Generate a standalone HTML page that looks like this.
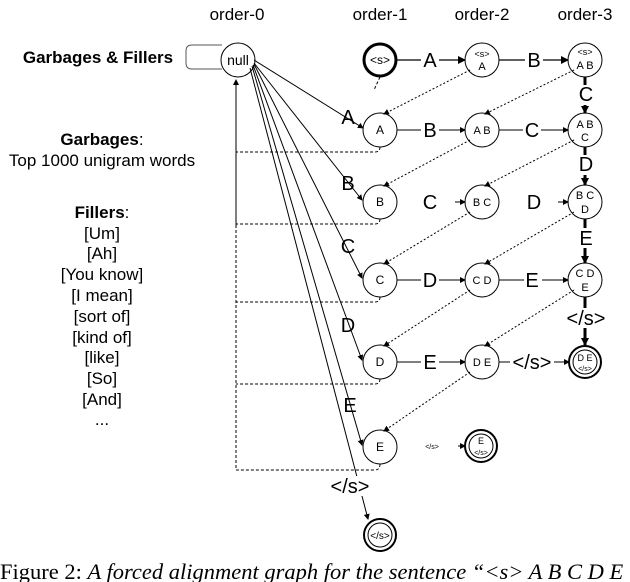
<!DOCTYPE html><html><head><meta charset="utf-8"><style>body{margin:0;background:#fff}svg{display:block}text{font-family:"Liberation Sans",sans-serif}</style></head><body>
<svg width="630" height="582" viewBox="0 0 630 582" xmlns="http://www.w3.org/2000/svg">
<defs><marker id="a" markerWidth="8" markerHeight="8" refX="7" refY="4" orient="auto" markerUnits="userSpaceOnUse"><path d="M0,0L8,4L0,8z" fill="#000"/></marker>
<marker id="s" markerWidth="6" markerHeight="6" refX="5" refY="3" orient="auto" markerUnits="userSpaceOnUse"><path d="M0,0L6,3L0,6z" fill="#000"/></marker></defs>
<g font-size="17" text-anchor="middle"><text x="237" y="20">order-0</text><text x="380" y="20">order-1</text><text x="482" y="20">order-2</text><text x="585" y="20">order-3</text></g>
<g text-anchor="middle" font-size="17"><text x="98" y="63" font-weight="bold">Garbages &amp; Fillers</text>
<text x="102" y="145"><tspan font-weight="bold">Garbages</tspan>:</text><text x="102" y="166">Top 1000 unigram words</text>
<text x="102" y="218"><tspan font-weight="bold">Fillers</tspan>:</text>
<text x="102" y="239">[Um]</text><text x="102" y="259">[Ah]</text><text x="102" y="280">[You know]</text><text x="102" y="301">[I mean]</text><text x="102" y="322">[sort of]</text><text x="102" y="343">[kind of]</text><text x="102" y="363">[like]</text><text x="102" y="384">[So]</text><text x="102" y="405">[And]</text><text x="102" y="425">...</text></g>
<g fill="none" stroke="#000" stroke-width="1">
<path d="M222,45H192Q186,45 186,51V63Q186,69 192,69H222" stroke="#555"/>
<path d="M236,225V80" marker-end="url(#s)"/>
<path d="M236,225V470" stroke-dasharray="3,2"/>
<g stroke-dasharray="3,2"><path d="M380,147Q380,152 375,152H236"/><path d="M380,219Q380,224 375,224H236"/><path d="M380,297Q380,302 375,302H236"/><path d="M380,379Q380,384 375,384H236"/><path d="M380,464Q380,470 375,470H236"/><path d="M380,77L374,90"/></g>
<g marker-end="url(#s)"><path d="M254,60L363,128"/><path d="M254,63L362,200"/><path d="M254,64L362,278"/><path d="M253,65L362,360"/><path d="M252,66L362,445"/><path d="M250,68L368,519"/></g>
<g stroke-dasharray="2,2" marker-end="url(#s)"><path d="M470,70L384,114"/><path d="M574,70L485,114"/><path d="M470,140L384,186"/><path d="M574,140L485,186"/><path d="M470,212L384,264"/><path d="M574,212L485,264"/><path d="M470,290L384,346"/><path d="M574,290L485,346"/><path d="M470,372L384,431"/></g>
<circle cx="238" cy="60" r="17"/>
<circle cx="380" cy="60" r="16" stroke-width="3"/>
<circle cx="482" cy="60" r="17"/><circle cx="585" cy="60" r="17"/>
<circle cx="380" cy="130" r="17"/><circle cx="482" cy="130" r="17"/><circle cx="585" cy="130" r="17"/>
<circle cx="380" cy="202" r="17"/><circle cx="482" cy="202" r="17"/><circle cx="585" cy="202" r="17"/>
<circle cx="380" cy="280" r="17"/><circle cx="482" cy="280" r="17"/><circle cx="585" cy="280" r="17"/>
<circle cx="380" cy="362" r="17"/><circle cx="482" cy="362" r="17"/><circle cx="585" cy="362" r="16" stroke-width="2"/><circle cx="585" cy="362" r="12"/>
<circle cx="380" cy="447" r="17"/><circle cx="481" cy="446" r="16" stroke-width="2"/><circle cx="481" cy="446" r="12"/>
<circle cx="380" cy="535" r="16" stroke-width="2"/><circle cx="380" cy="535" r="12"/>
<g stroke-width="1.3" marker-end="url(#a)"><path d="M397,60H465"/><path d="M499,60H568"/><path d="M585,77V113" stroke-width="3"/><path d="M585,147V185" stroke-width="3"/><path d="M585,219V263" stroke-width="3"/><path d="M585,297V345" stroke-width="3"/></g>
<g marker-end="url(#s)"><path d="M397,130H465"/><path d="M499,130H568"/><path d="M455,202H465"/><path d="M558,202H568"/><path d="M397,280H465"/><path d="M499,280H568"/><path d="M397,362H465"/><path d="M499,362H569"/><path d="M458,446H465"/></g>
</g>
<g text-anchor="middle" font-size="20" fill="#000">
<g fill="#fff"><rect x="421" y="50" width="18" height="20"/><rect x="525" y="50" width="18" height="20"/><rect x="575" y="85" width="20" height="20"/><rect x="575" y="155" width="20" height="20"/><rect x="575" y="228" width="20" height="20"/><rect x="568" y="308" width="36" height="20"/><rect x="421" y="120" width="18" height="20"/><rect x="523" y="120" width="18" height="20"/><rect x="421" y="270" width="18" height="20"/><rect x="524" y="270" width="18" height="20"/><rect x="421" y="352" width="18" height="20"/><rect x="510" y="352" width="44" height="20"/><rect x="325" y="476" width="48" height="20"/></g>
<text x="430" y="67">A</text><text x="534" y="67">B</text><text x="586" y="101">C</text><text x="586" y="171">D</text><text x="586" y="245">E</text><text x="586" y="325">&lt;/s&gt;</text>
<text x="430" y="137">B</text><text x="532" y="137">C</text><text x="430" y="209">C</text><text x="534" y="209">D</text><text x="430" y="287">D</text><text x="532" y="287">E</text><text x="430" y="369">E</text><text x="532" y="369">&lt;/s&gt;</text>
<text x="348" y="124">A</text><text x="348" y="190">B</text><text x="348" y="253">C</text><text x="348" y="332">D</text><text x="350" y="412">E</text><text x="350" y="493">&lt;/s&gt;</text>
</g>
<g text-anchor="middle" font-size="11"><text x="238" y="65" font-size="14">null</text><text x="380" y="64" font-size="12">&lt;s&gt;</text>
<text x="482" y="57" font-size="9">&lt;s&gt;</text><text x="482" y="70">A</text><text x="585" y="55" font-size="9">&lt;s&gt;</text><text x="585" y="69">A B</text>
<text x="380" y="134" font-size="12">A</text><text x="482" y="134">A B</text><text x="585" y="128">A B</text><text x="585" y="141">C</text>
<text x="380" y="206" font-size="12">B</text><text x="482" y="206">B C</text><text x="585" y="199">B C</text><text x="585" y="213">D</text>
<text x="380" y="284" font-size="12">C</text><text x="482" y="284">C D</text><text x="585" y="277">C D</text><text x="585" y="291">E</text>
<text x="380" y="366" font-size="12">D</text><text x="482" y="366">D E</text><text x="585" y="361" font-size="9">D E</text><text x="585" y="371" font-size="7">&lt;/s&gt;</text>
<text x="380" y="451" font-size="12">E</text><text x="432" y="449" font-size="7">&lt;/s&gt;</text><text x="481" y="444" font-size="9">E</text><text x="481" y="455" font-size="7">&lt;/s&gt;</text>
<text x="380" y="539" font-size="10">&lt;/s&gt;</text></g>
<text x="0" y="579" font-size="22.5" style="font-family:'Liberation Serif',serif">Figure 2: <tspan font-style="italic">A forced alignment graph for the sentence “&lt;s&gt; A B C D E</tspan></text>
</svg></body></html>
